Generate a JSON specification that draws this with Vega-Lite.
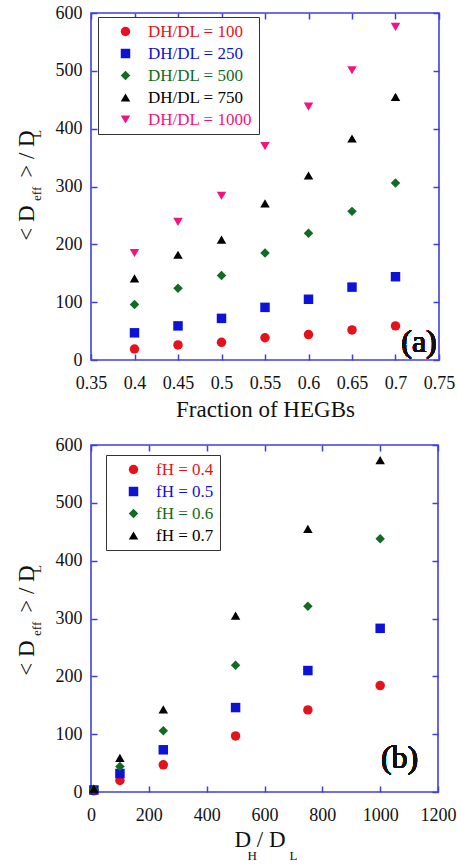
{
  "$schema": "https://vega.github.io/schema/vega-lite/v6.json",
  "background": "white",
  "padding": {"left": 14, "top": 3, "right": 5, "bottom": 0},
  "spacing": 13,
  "resolve": {"scale": {"color": "independent", "shape": "independent", "x": "independent", "y": "independent"}, "legend": {"color": "independent", "shape": "independent"}},
  "config": {
    "view": {"stroke": "#3f3fe0", "strokeWidth": 1.6},
    "font": "Liberation Serif",
    "axis": {
      "labelFont": "Liberation Serif", "labelFontSize": 18, "labelColor": "#111",
      "titleFont": "Liberation Serif", "titleFontWeight": "normal", "titleColor": "#111",
      "domain": false, "grid": false, "tickColor": "#3f3fe0", "tickWidth": 1.5, "tickSize": -6,
      "labelFlush": false, "labelOverlap": false
    },
    "legend": {
      "labelFont": "Liberation Serif", "labelFontSize": 17, "padding": 6, "rowPadding": 4,
      "symbolOffset": 13, "labelOffset": 14, "symbolSize": 90, "strokeColor": "#333",
      "fillColor": "white", "orient": "none"
    }
  },
  "vconcat": [
    {
      "width": 348, "height": 347,
      "data": {"values": [
        {"f": 0.4, "d": 19, "s": "DH/DL = 100"}, {"f": 0.45, "d": 26, "s": "DH/DL = 100"}, {"f": 0.5, "d": 30.5, "s": "DH/DL = 100"}, {"f": 0.55, "d": 38.5, "s": "DH/DL = 100"}, {"f": 0.6, "d": 44, "s": "DH/DL = 100"}, {"f": 0.65, "d": 52, "s": "DH/DL = 100"}, {"f": 0.7, "d": 59, "s": "DH/DL = 100"},
        {"f": 0.4, "d": 47, "s": "DH/DL = 250"}, {"f": 0.45, "d": 59, "s": "DH/DL = 250"}, {"f": 0.5, "d": 72, "s": "DH/DL = 250"}, {"f": 0.55, "d": 91, "s": "DH/DL = 250"}, {"f": 0.6, "d": 105, "s": "DH/DL = 250"}, {"f": 0.65, "d": 126, "s": "DH/DL = 250"}, {"f": 0.7, "d": 144, "s": "DH/DL = 250"},
        {"f": 0.4, "d": 96, "s": "DH/DL = 500"}, {"f": 0.45, "d": 124, "s": "DH/DL = 500"}, {"f": 0.5, "d": 146, "s": "DH/DL = 500"}, {"f": 0.55, "d": 185, "s": "DH/DL = 500"}, {"f": 0.6, "d": 219, "s": "DH/DL = 500"}, {"f": 0.65, "d": 257, "s": "DH/DL = 500"}, {"f": 0.7, "d": 306, "s": "DH/DL = 500"},
        {"f": 0.4, "d": 141, "s": "DH/DL = 750"}, {"f": 0.45, "d": 182, "s": "DH/DL = 750"}, {"f": 0.5, "d": 208, "s": "DH/DL = 750"}, {"f": 0.55, "d": 271, "s": "DH/DL = 750"}, {"f": 0.6, "d": 319, "s": "DH/DL = 750"}, {"f": 0.65, "d": 383, "s": "DH/DL = 750"}, {"f": 0.7, "d": 455, "s": "DH/DL = 750"},
        {"f": 0.4, "d": 185, "s": "DH/DL = 1000"}, {"f": 0.45, "d": 239, "s": "DH/DL = 1000"}, {"f": 0.5, "d": 284, "s": "DH/DL = 1000"}, {"f": 0.55, "d": 370, "s": "DH/DL = 1000"}, {"f": 0.6, "d": 438, "s": "DH/DL = 1000"}, {"f": 0.65, "d": 501, "s": "DH/DL = 1000"}, {"f": 0.7, "d": 576, "s": "DH/DL = 1000"}
      ]},
      "layer": [
        {
          "mark": {"type": "point", "filled": true, "size": 90, "opacity": 1},
          "encoding": {
            "x": {"field": "f", "type": "quantitative",
              "scale": {"domain": [0.35, 0.75], "nice": false, "zero": false},
              "axis": {"orient": "bottom", "values": [0.35, 0.4, 0.45, 0.5, 0.55, 0.6, 0.65, 0.7, 0.75], "format": ".2~f", "labelPadding": 20,
                "title": "Fraction of HEGBs", "titleFontSize": 23, "titleY": 56, "titleAlign": "center", "titleBaseline": "alphabetic"}},
            "y": {"field": "d", "type": "quantitative",
              "scale": {"domain": [0, 600], "nice": false},
              "axis": {"orient": "left", "values": [0, 100, 200, 300, 400, 500, 600], "labelPadding": 15,
                "title": "<\u00a0D\u00a0\u00a0\u00a0\u00a0\u2009>\u00a0/\u00a0D", "titleFontSize": 23, "titleAngle": -90,
                "titleX": -58, "titleY": 172, "titleAlign": "center", "titleBaseline": "alphabetic"}},
            "color": {"field": "s", "type": "nominal",
              "scale": {"domain": ["DH/DL = 100", "DH/DL = 250", "DH/DL = 500", "DH/DL = 750", "DH/DL = 1000"],
                        "range": ["#e5121b", "#0d13d6", "#116b22", "#000000", "#f7127f"]},
              "legend": {"title": null, "legendX": 7, "legendY": 4,
                "labelColor": {"expr": "datum.value == 'DH/DL = 100' ? '#e5121b' : datum.value == 'DH/DL = 250' ? '#0d13d6' : datum.value == 'DH/DL = 500' ? '#116b22' : datum.value == 'DH/DL = 1000' ? '#f7127f' : '#000000'"}}},
            "shape": {"field": "s", "type": "nominal",
              "scale": {"domain": ["DH/DL = 100", "DH/DL = 250", "DH/DL = 500", "DH/DL = 750", "DH/DL = 1000"],
                        "range": ["circle", "square", "diamond", "triangle-up", "triangle-down"]}}
          }
        },
        {
          "mark": {"type": "point", "opacity": 0},
          "encoding": {
            "x": {"field": "f", "type": "quantitative",
              "axis": {"orient": "top", "values": [0.35, 0.4, 0.45, 0.5, 0.55, 0.6, 0.65, 0.7, 0.75], "labels": false, "title": null}},
            "y": {"field": "d", "type": "quantitative",
              "axis": {"orient": "right", "values": [0, 100, 200, 300, 400, 500, 600], "labels": false,
                "title": "eff\u00a0\u00a0\u00a0\u00a0\u00a0\u00a0\u00a0\u00a0\u00a0\u00a0\u00a0\u00a0\u00a0\u00a0\u00a0L", "titleFontSize": 13, "titleAngle": -90,
                "titleX": -398.5, "titleY": 152, "titleAlign": "center", "titleBaseline": "alphabetic"}}
          }
        },
        {
          "mark": {"type": "text", "font": "Liberation Serif", "fontSize": 32, "fontWeight": "normal", "align": "center", "baseline": "alphabetic", "color": "#111"},
          "encoding": {
            "x": {"datum": 0.727, "type": "quantitative", "axis": null},
            "y": {"datum": 14, "type": "quantitative", "axis": null},
            "text": {"value": "(a)"}
          }
        }
      ],
      "resolve": {"axis": {"x": "independent", "y": "independent"}}
    },
    {
      "width": 347, "height": 347,
      "data": {"values": [
        {"r": 10, "d": 2, "s": "fH = 0.4"}, {"r": 100, "d": 20, "s": "fH = 0.4"}, {"r": 250, "d": 47, "s": "fH = 0.4"}, {"r": 500, "d": 97, "s": "fH = 0.4"}, {"r": 750, "d": 142, "s": "fH = 0.4"}, {"r": 1000, "d": 184, "s": "fH = 0.4"},
        {"r": 10, "d": 3.5, "s": "fH = 0.5"}, {"r": 100, "d": 32, "s": "fH = 0.5"}, {"r": 250, "d": 73, "s": "fH = 0.5"}, {"r": 500, "d": 146, "s": "fH = 0.5"}, {"r": 750, "d": 210, "s": "fH = 0.5"}, {"r": 1000, "d": 283, "s": "fH = 0.5"},
        {"r": 10, "d": 4.5, "s": "fH = 0.6"}, {"r": 100, "d": 44, "s": "fH = 0.6"}, {"r": 250, "d": 106, "s": "fH = 0.6"}, {"r": 500, "d": 219, "s": "fH = 0.6"}, {"r": 750, "d": 321, "s": "fH = 0.6"}, {"r": 1000, "d": 438, "s": "fH = 0.6"},
        {"r": 10, "d": 6, "s": "fH = 0.7"}, {"r": 100, "d": 59, "s": "fH = 0.7"}, {"r": 250, "d": 143, "s": "fH = 0.7"}, {"r": 500, "d": 305, "s": "fH = 0.7"}, {"r": 750, "d": 455, "s": "fH = 0.7"}, {"r": 1000, "d": 574, "s": "fH = 0.7"}
      ]},
      "layer": [
        {
          "mark": {"type": "point", "filled": true, "size": 90, "opacity": 1},
          "encoding": {
            "x": {"field": "r", "type": "quantitative",
              "scale": {"domain": [0, 1200], "nice": false},
              "axis": {"orient": "bottom", "values": [0, 200, 400, 600, 800, 1000, 1200], "format": "d", "labelPadding": 20,
                "title": "D\u00a0/\u00a0D", "titleFontSize": 23, "titleX": 168.5, "titleY": 54, "titleAlign": "center", "titleBaseline": "alphabetic"}},
            "y": {"field": "d", "type": "quantitative",
              "scale": {"domain": [0, 600], "nice": false},
              "axis": {"orient": "left", "values": [0, 100, 200, 300, 400, 500, 600], "labelPadding": 15,
                "title": "<\u00a0D\u00a0\u00a0\u00a0\u00a0\u2009>\u00a0/\u00a0D", "titleFontSize": 23, "titleAngle": -90,
                "titleX": -58, "titleY": 175, "titleAlign": "center", "titleBaseline": "alphabetic"}},
            "color": {"field": "s", "type": "nominal",
              "scale": {"domain": ["fH = 0.4", "fH = 0.5", "fH = 0.6", "fH = 0.7"],
                        "range": ["#e5121b", "#0d13d6", "#116b22", "#000000"]},
              "legend": {"title": null, "legendX": 15, "legendY": 10,
                "labelColor": {"expr": "datum.value == 'fH = 0.4' ? '#e5121b' : datum.value == 'fH = 0.5' ? '#0d13d6' : datum.value == 'fH = 0.6' ? '#116b22' : '#000000'"}}},
            "shape": {"field": "s", "type": "nominal",
              "scale": {"domain": ["fH = 0.4", "fH = 0.5", "fH = 0.6", "fH = 0.7"],
                        "range": ["circle", "square", "diamond", "triangle-up"]}}
          }
        },
        {
          "mark": {"type": "point", "opacity": 0},
          "encoding": {
            "x": {"field": "r", "type": "quantitative",
              "axis": {"orient": "top", "values": [0, 200, 400, 600, 800, 1000, 1200], "labels": false,
                "title": "H\u00a0\u00a0\u00a0\u00a0\u00a0\u00a0\u00a0\u00a0\u00a0\u00a0L", "titleFontSize": 13,
                "titleX": 181, "titleY": 414, "titleAlign": "center", "titleBaseline": "alphabetic"}},
            "y": {"field": "d", "type": "quantitative",
              "axis": {"orient": "right", "values": [0, 100, 200, 300, 400, 500, 600], "labels": false,
                "title": "eff\u00a0\u00a0\u00a0\u00a0\u00a0\u00a0\u00a0\u00a0\u00a0\u00a0\u00a0\u00a0\u00a0\u00a0\u00a0L", "titleFontSize": 13, "titleAngle": -90,
                "titleX": -397.5, "titleY": 155, "titleAlign": "center", "titleBaseline": "alphabetic"}}
          }
        },
        {
          "mark": {"type": "text", "font": "Liberation Serif", "fontSize": 32, "fontWeight": "normal", "align": "center", "baseline": "alphabetic", "color": "#111"},
          "encoding": {
            "x": {"datum": 1067, "type": "quantitative", "axis": null},
            "y": {"datum": 41, "type": "quantitative", "axis": null},
            "text": {"value": "(b)"}
          }
        }
      ],
      "resolve": {"axis": {"x": "independent", "y": "independent"}}
    }
  ]
}
